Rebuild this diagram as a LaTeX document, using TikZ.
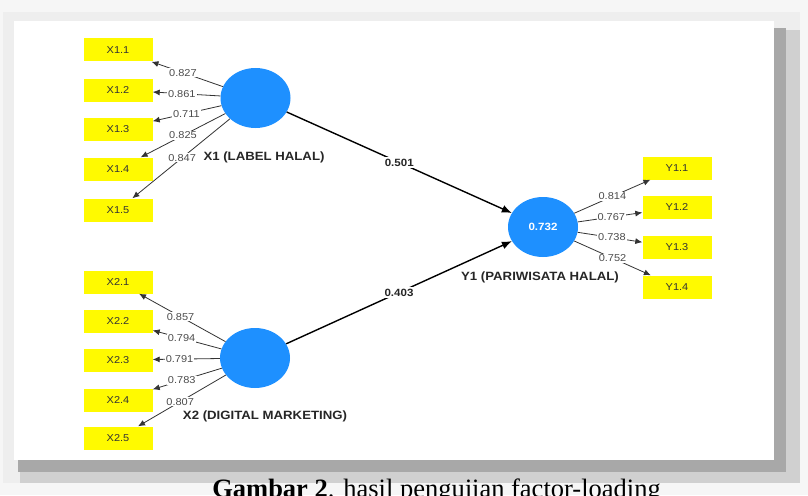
\documentclass[tikz,border=0pt]{standalone}
\usepackage{fontspec}
\setmainfont{Liberation Sans}
\newfontfamily\plsfont{Liberation Sans}[FakeStretch=1.1]
\newfontfamily\capfont{Liberation Serif}
\usetikzlibrary{shapes.geometric,arrows.meta}
\definecolor{plsblue}{RGB}{30,144,255}
\definecolor{plsyellow}{RGB}{255,250,0}
\definecolor{bgouter}{RGB}{246,246,246}
\definecolor{bgframe}{RGB}{238,238,238}
\definecolor{shadowlight}{RGB}{208,208,208}
\definecolor{shadowdark}{RGB}{168,168,168}
\begin{document}
\begin{tikzpicture}[x=1pt,y=-1pt,
  ind/.style={fill=plsyellow, minimum width=69pt, minimum height=23pt, inner sep=0pt,
    font=\plsfont\fontsize{10}{12}\selectfont, text=black!80},
  lv/.style={ellipse, fill=plsblue, minimum width=70pt, minimum height=60pt, inner sep=0pt},
  lvlabel/.style={font=\plsfont\bfseries\fontsize{12}{14}\selectfont, text=black!85, inner sep=0pt},
  load/.style={draw=black!80, line width=0.8pt, -{Latex[length=7pt,width=6pt]}},
  loadlab/.style={fill=white, inner sep=1pt, font=\plsfont\fontsize{10}{12}\selectfont, text=black!70},
  pathc/.style={draw=black, line width=1.4pt, -{Latex[length=10pt,width=8pt]}},
  pathlab/.style={fill=white, inner sep=1.5pt, font=\plsfont\bfseries\fontsize{10.5}{12}\selectfont, text=black!85},
]
\useasboundingbox (0,0) rectangle (808,495);
% background frame and shadow
\fill[bgouter] (0,0) rectangle (808,495);
\fill[bgframe] (3,12) rectangle (800,483);
\fill[shadowlight] (20,30) rectangle (800,483);
\fill[shadowdark] (18,28) rectangle (786,472);
\fill[white] (14,21) rectangle (774,460);

% latent variables
\node[lv] (X1) at (255.5,98) {};
\node[lv] (X2) at (255,358) {};
\node[lv, font=\plsfont\bfseries\fontsize{10.5}{12}\selectfont, text=white] (Y1) at (543,227) {0.732};
\node[lvlabel] (X1l) at (264,157) {X1 (LABEL HALAL)};
\node[lvlabel] (X2l) at (265,416) {X2 (DIGITAL MARKETING)};
\node[lvlabel] (Y1l) at (540,277) {Y1 (PARIWISATA HALAL)};

% indicators
\node[ind] (x11) at (118,50) {X1.1};
\node[ind] (x12) at (118,90) {X1.2};
\node[ind] (x13) at (118,129) {X1.3};
\node[ind] (x14) at (118,169) {X1.4};
\node[ind] (x15) at (118,210) {X1.5};
\node[ind] (x21) at (118,282) {X2.1};
\node[ind] (x22) at (118,321) {X2.2};
\node[ind] (x23) at (118,360) {X2.3};
\node[ind] (x24) at (118,400) {X2.4};
\node[ind] (x25) at (118,438) {X2.5};
\node[ind] (y11) at (677,168) {Y1.1};
\node[ind] (y12) at (677,207.5) {Y1.2};
\node[ind] (y13) at (677,247.5) {Y1.3};
\node[ind] (y14) at (677,287) {Y1.4};

% outer loadings
\draw[load] (X1) -- node[loadlab, pos=0.56] {0.827} (x11);
\draw[load] (X1) -- node[loadlab, pos=0.57] {0.861} (x12);
\draw[load] (X1) -- node[loadlab, pos=0.51] {0.711} (x13);
\draw[load] (X1) -- node[loadlab, pos=0.50] {0.825} (x14);
\draw[load] (X1) -- node[loadlab, pos=0.49] {0.847} (x15);

\draw[load] (X2) -- node[loadlab, pos=0.52] {0.857} (x21);
\draw[load] (X2) -- node[loadlab, pos=0.58] {0.794} (x22);
\draw[load] (X2) -- node[loadlab, pos=0.60] {0.791} (x23);
\draw[load] (X2) -- node[loadlab, pos=0.58] {0.783} (x24);
\draw[load] (X2) -- node[loadlab, pos=0.52] {0.807} (x25);

\draw[load] (Y1) -- node[loadlab, pos=0.50] {0.814} (y11);
\draw[load] (Y1) -- node[loadlab, pos=0.52] {0.767} (y12);
\draw[load] (Y1) -- node[loadlab, pos=0.53] {0.738} (y13);
\draw[load] (Y1) -- node[loadlab, pos=0.50] {0.752} (y14);

% structural paths
\draw[pathc] (X1) -- node[pathlab, pos=0.5] {0.501} (Y1);
\draw[pathc] (X2) -- node[pathlab, pos=0.5] {0.403} (Y1);

% caption (cut by the lower edge, as in the reference)
\node[anchor=base, inner sep=0pt, font=\capfont\fontsize{26.5}{30}\selectfont] (cap) at (436.5,497)
  {\textbf{Gambar 2}. hasil pengujian factor-loading};
\end{tikzpicture}
\end{document}
